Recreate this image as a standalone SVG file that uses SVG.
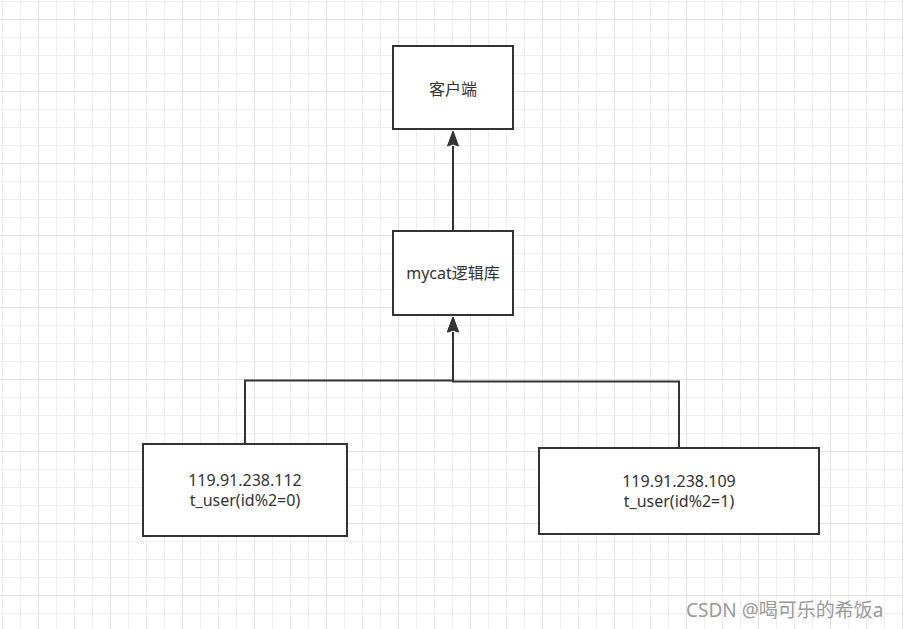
<svg xmlns="http://www.w3.org/2000/svg" width="903" height="629" viewBox="0 0 903 629">
  <style>
    .box { fill: #ffffff; stroke: #333333; stroke-width: 2; }
    .lbl { font-family: "Noto Sans", "Noto Sans CJK SC", sans-serif; font-size: 16px; fill: #333333; text-anchor: middle; }
    .edge { fill: none; stroke: #333333; stroke-width: 2; marker-end: url(#arrow); }
    .wm { font-family: "Noto Sans", "Noto Sans CJK SC", sans-serif; font-size: 19px; fill: #9a9a9a; }
  </style>
  <defs>
    <pattern id="grid" patternUnits="userSpaceOnUse" x="0" y="0" width="72" height="72">
      <g stroke="#efefef" stroke-width="1">
        <line x1="2.5" y1="0" x2="2.5" y2="72"/>
        <line x1="20.5" y1="0" x2="20.5" y2="72"/>
        <line x1="56.5" y1="0" x2="56.5" y2="72"/>
        <line x1="0" y1="1.5" x2="72" y2="1.5"/>
        <line x1="0" y1="37.5" x2="72" y2="37.5"/>
        <line x1="0" y1="55.5" x2="72" y2="55.5"/>
      </g>
      <g stroke="#e2e2e2" stroke-width="1">
        <line x1="38.5" y1="0" x2="38.5" y2="72"/>
        <line x1="0" y1="19.5" x2="72" y2="19.5"/>
      </g>
    </pattern>
    <marker id="arrow" markerUnits="userSpaceOnUse" markerWidth="16" markerHeight="12" refX="0" refY="5.5" orient="auto" overflow="visible">
      <path d="M0,0 L15,5.5 L0,11 L2,5.5 z" fill="#333333" stroke="#333333" stroke-width="1"/>
    </marker>
  </defs>
  <rect x="0" y="0" width="903" height="629" fill="#ffffff"/>
  <rect x="0" y="0" width="903" height="629" fill="url(#grid)"/>

  <g id="connectors">
    <path class="edge" d="M453,231 L453,146"/>
    <path class="edge" d="M245,444 L245,380.5 L453,380.5 L453,332"/>
    <path class="edge" d="M679,448 L679,381.5 L453,381.5 L453,332"/>
  </g>

  <g id="client">
    <rect class="box" x="393" y="46" width="120" height="83"/>
    <text class="lbl" x="453" y="94.5">客户端</text>
  </g>
  <g id="mycat">
    <rect class="box" x="393" y="231" width="120" height="84"/>
    <text class="lbl" x="453" y="279">mycat逻辑库</text>
  </g>
  <g id="db112">
    <rect class="box" x="143" y="444" width="204" height="92"/>
    <text class="lbl" x="245" y="485.5">119.91.238.112</text>
    <text class="lbl" x="245" y="505.5">t_user(id%2=0)</text>
  </g>
  <g id="db109">
    <rect class="box" x="539" y="448" width="280" height="86"/>
    <text class="lbl" x="679" y="486.5">119.91.238.109</text>
    <text class="lbl" x="679" y="506.5">t_user(id%2=1)</text>
  </g>

  <text class="wm" x="686" y="617">CSDN @喝可乐的希饭a</text>
</svg>
